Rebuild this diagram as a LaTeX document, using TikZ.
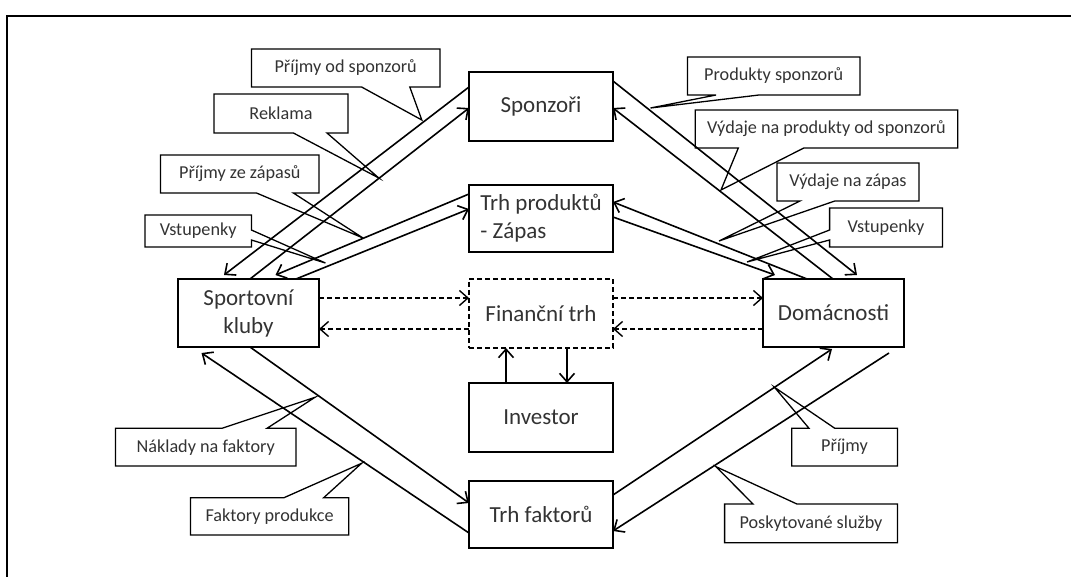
\documentclass[tikz,border=0pt]{standalone}
\usepackage{fontspec}
\setmainfont{Carlito}
\usetikzlibrary{arrows.meta,calc}
\begin{document}
\begin{tikzpicture}[x=1pt,y=-1pt,
  box/.style={draw, line width=2.2pt, outer sep=0pt, inner sep=0pt, font=\fontsize{23}{28}\selectfont, align=center, text=black!80},
  dbox/.style={box, line width=1.5pt, dash pattern=on 5pt off 3pt},
  flow/.style={line width=1.6pt, -{Straight Barb[length=8.5pt,width=15pt]}},
  dflow/.style={flow, line width=1.4pt, dash pattern=on 5pt off 3pt},
  callout/.style={line width=1.3pt, line join=miter},
  ctext/.style={font=\fontsize{18.2}{22}\selectfont, text=black!80, inner sep=0pt},
]
\useasboundingbox (0,0) rectangle (1071,577);
% frame
\draw[line width=1.5pt] (7,577) -- (7,16) -- (1071,16);

% main boxes
\node[box, minimum width=144pt, minimum height=69pt] (spon) at (541,106.5) {Sponzoři};
\node[box, minimum width=144pt, minimum height=67pt, align=left, inner xsep=8.5pt] (tp) at (541,218.5) {Trh produktů\\- Zápas};
\node[dbox, minimum width=144pt, minimum height=69pt] (ft) at (541,313.5) {Finanční trh};
\node[box, minimum width=144pt, minimum height=69pt] (inv) at (541,417.5) {Investor};
\node[box, minimum width=144pt, minimum height=67pt] (tf) at (541,514.5) {Trh faktorů};
\node[box, minimum width=141pt, minimum height=68pt] (sk) at (248.5,313) {Sportovní\\kluby};
\node[box, minimum width=141pt, minimum height=68pt] (dom) at (833.5,313) {Domácnosti};

% upper left flows
\draw[flow] ([shift={(0,15)}]spon.north west) -- ([shift={(46,-4)}]sk.north west);
\draw[flow] ([shift={(72,0)}]sk.north west) -- ([shift={(0,36)}]spon.north west);
\draw[flow] ([shift={(0,9)}]tp.north west) -- ([shift={(97.5,-4)}]sk.north west);
\draw[flow] ([shift={(118,0)}]sk.north west) -- ([shift={(0,24)}]tp.north west);

% upper right flows
\draw[flow] ([shift={(0,9)}]spon.north east) -- ([shift={(94,-4)}]dom.north west);
\draw[flow] ([shift={(70,0)}]dom.north west) -- ([shift={(0,36)}]spon.north east);
\draw[flow] ([shift={(44,0)}]dom.north west) -- ([shift={(0,17)}]tp.north east);
\draw[flow] ([shift={(0,32)}]tp.north east) -- ([shift={(12,-4)}]dom.north west);

% dashed flows
\draw[dflow] ([shift={(0,19)}]sk.north east) -- ([shift={(0,19)}]ft.north west);
\draw[dflow] ([shift={(0,50)}]ft.north west) -- ([shift={(0,50)}]sk.north east);
\draw[dflow] ([shift={(0,19)}]ft.north east) -- ([shift={(0,19)}]dom.north west);
\draw[dflow] ([shift={(0,50)}]dom.north west) -- ([shift={(0,50)}]ft.north east);

% investor
\draw[flow] ([shift={(37,0)}]inv.north west) -- ([shift={(37,0)}]ft.south west);
\draw[flow] ([shift={(98,0)}]ft.south west) -- ([shift={(98,0)}]inv.north west);

% lower flows
\draw[flow] ([shift={(0,52)}]tf.north west) -- ([shift={(23.5,6)}]sk.south west);
\draw[flow] ([shift={(72,0)}]sk.south west) -- ([shift={(0,22)}]tf.north west);
\draw[flow] ([shift={(0,14)}]tf.north east) -- ([shift={(69,2)}]dom.south west);
\draw[flow] ([shift={(126,6)}]dom.south west) -- ([shift={(0,50)}]tf.north east);

% callouts
\draw[callout] (251.4,49) -- (440,49) -- (440,87) -- (409.8,87) -- (421.8,120) -- (361.6,87) -- (251.4,87) -- cycle;
\node[ctext] (c1) at (345.7,68) {Příjmy od sponzorů};

\draw[callout] (214,94) -- (348,94) -- (348,133) -- (327,133) -- (378.8,178) -- (293.4,133) -- (214,133) -- cycle;
\node[ctext] (c2) at (281,113.5) {Reklama};

\draw[callout] (160.5,155) -- (319,155) -- (319,193) -- (293.4,193) -- (363,238) -- (256.5,193) -- (160.5,193) -- cycle;
\node[ctext] (c3) at (239.8,174) {Příjmy ze zápasů};

\draw[callout] (145,215) -- (251.4,215) -- (251.4,230) -- (325.4,263) -- (251.4,240) -- (251.4,247) -- (145,247) -- cycle;
\node[ctext] (c4) at (198.2,231) {Vstupenky};

\draw[callout] (687.4,57) -- (860,57) -- (860,95) -- (759,95) -- (650.5,108) -- (716,95) -- (687.4,95) -- cycle;
\node[ctext] (c5) at (773.7,76) {Produkty sponzorů};

\draw[callout] (695.3,110) -- (957.7,110) -- (957.7,148) -- (803.8,148) -- (721,190) -- (738.3,148) -- (695.3,148) -- cycle;
\node[ctext] (c6) at (826.5,129) {Výdaje na produkty od sponzorů};

\draw[callout] (777,163) -- (919,163) -- (919,201) -- (834.8,201) -- (719,241) -- (800,201) -- (777,201) -- cycle;
\node[ctext] (c7) at (848,182) {Výdaje na zápas};

\draw[callout] (829.6,208) -- (942.5,208) -- (942.5,247) -- (829.6,247) -- (829.6,240) -- (747,262) -- (829.6,230) -- cycle;
\node[ctext] (c8) at (886,227.5) {Vstupenky};

\draw[callout] (115.4,428.3) -- (222,428.3) -- (315,397.3) -- (267,428.3) -- (296,428.3) -- (296,466) -- (115.4,466) -- cycle;
\node[ctext] (c9) at (205.7,447.2) {Náklady na faktory};

\draw[callout] (190.4,497.7) -- (284,497.7) -- (361.6,463.3) -- (323.7,497.7) -- (348.8,497.7) -- (348.8,535) -- (190.4,535) -- cycle;
\node[ctext] (c10) at (269.6,516.4) {Faktory produkce};

\draw[callout] (791.7,428.3) -- (809,428.3) -- (774.5,387.3) -- (834.8,428.3) -- (897.4,428.3) -- (897.4,466) -- (791.7,466) -- cycle;
\node[ctext] (c11) at (844.5,447.2) {Příjmy};

\draw[callout] (724.6,504) -- (753,504) -- (716,466.7) -- (796.9,504) -- (897.4,504) -- (897.4,542.7) -- (724.6,542.7) -- cycle;
\node[ctext] (c12) at (811,523.4) {Poskytované služby};
\end{tikzpicture}
\end{document}
